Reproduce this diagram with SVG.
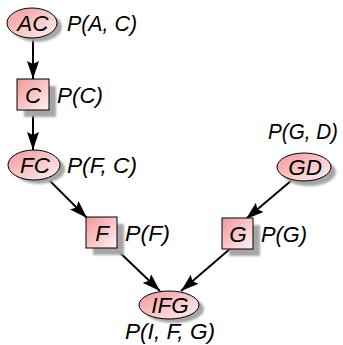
<svg xmlns="http://www.w3.org/2000/svg" width="343" height="345" viewBox="0 0 343 345">
<defs>
<linearGradient id="g" x1="0" y1="0" x2="1" y2="1">
<stop offset="0" stop-color="#f39696"/>
<stop offset="1" stop-color="#fff4f4"/>
</linearGradient>
<filter id="sh" x="-30%" y="-30%" width="160%" height="160%">
<feGaussianBlur stdDeviation="1.2"/>
</filter>
<marker id="ah" markerWidth="18" markerHeight="12" viewBox="0 0 18 12" refX="18" refY="6" orient="auto" markerUnits="userSpaceOnUse">
<path d="M0,0 L18,6 L0,12 L3,6 Z" fill="#000"/>
</marker>
</defs>
<style>
.n{fill:url(#g);stroke:#000;stroke-width:1}
.s{fill:#a6a6a6;filter:url(#sh)}
.t{font-family:"Liberation Sans",Arial,sans-serif;font-style:italic;font-size:22.5px;fill:#000}
.m{text-anchor:middle}
.e{stroke:#000;stroke-width:2;fill:none;marker-end:url(#ah)}
</style>
<g id="connectors">
<line class="e" x1="33" y1="38" x2="33" y2="79"/>
<line class="e" x1="33" y1="110" x2="33" y2="150"/>
<line class="e" x1="46" y1="177" x2="87" y2="218"/>
<line class="e" x1="292" y1="180" x2="246" y2="219"/>
<line class="e" x1="115" y1="248" x2="160" y2="291"/>
<line class="e" x1="231" y1="248" x2="181" y2="291"/>
</g>
<g id="AC">
<ellipse class="s" cx="37" cy="27" rx="25" ry="15"/>
<ellipse class="n" cx="32" cy="23" rx="25" ry="15"/>
<text class="t m" x="33" y="31">AC</text>
<text class="t" x="67" y="31" textLength="70" lengthAdjust="spacingAndGlyphs">P(A, C)</text>
</g>
<g id="C">
<rect class="s" x="24" y="86" width="32" height="31"/>
<rect class="n" x="17" y="79" width="32" height="31"/>
<text class="t m" x="33" y="103">C</text>
<text class="t" x="57" y="103" textLength="46" lengthAdjust="spacingAndGlyphs">P(C)</text>
</g>
<g id="FC">
<ellipse class="s" cx="39" cy="169" rx="26" ry="15"/>
<ellipse class="n" cx="34" cy="165" rx="26" ry="15"/>
<text class="t m" x="35" y="173">FC</text>
<text class="t" x="67" y="173" textLength="70" lengthAdjust="spacingAndGlyphs">P(F, C)</text>
</g>
<g id="F">
<rect class="s" x="93" y="224" width="31" height="31"/>
<rect class="n" x="86" y="217" width="31" height="31"/>
<text class="t m" x="102" y="241">F</text>
<text class="t" x="125" y="241" textLength="45" lengthAdjust="spacingAndGlyphs">P(F)</text>
</g>
<g id="GD">
<ellipse class="s" cx="309" cy="172" rx="27" ry="14"/>
<ellipse class="n" cx="304" cy="167" rx="27" ry="14"/>
<text class="t m" x="305" y="175">GD</text>
<text class="t" x="268" y="139" textLength="70" lengthAdjust="spacingAndGlyphs">P(G, D)</text>
</g>
<g id="G">
<rect class="s" x="229" y="225" width="31" height="31"/>
<rect class="n" x="222" y="218" width="31" height="31"/>
<text class="t m" x="238" y="242">G</text>
<text class="t" x="261" y="242" textLength="46" lengthAdjust="spacingAndGlyphs">P(G)</text>
</g>
<g id="IFG">
<ellipse class="s" cx="174" cy="309" rx="30" ry="14"/>
<ellipse class="n" cx="169" cy="305" rx="30" ry="14"/>
<text class="t m" x="170" y="313">IFG</text>
<text class="t" x="125" y="339" textLength="90" lengthAdjust="spacingAndGlyphs">P(I, F, G)</text>
</g>
</svg>
